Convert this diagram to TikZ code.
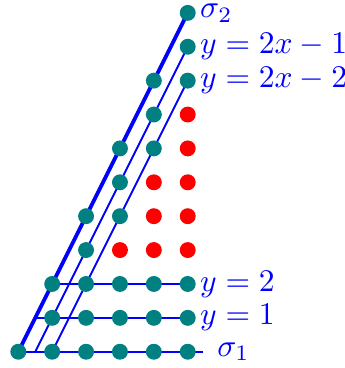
\documentclass[tikz,border=0pt]{standalone}
\usepackage{xcolor}
\usepackage{tikz}
\usetikzlibrary{positioning,backgrounds}

\begin{document}
\begin{tikzpicture}[x=1cm, y=1cm, dot/.style={circle, fill=teal, inner sep=0pt, minimum size=0.47cm}, reddot/.style={circle, fill=red, inner sep=0pt, minimum size=0.47cm}, ray/.style={blue, line width=1.6pt}, cone/.style={blue, line width=3.2pt}, lbl/.style={text=blue, inner sep=0.3pt, scale=2.65}]
\useasboundingbox (-0.54,-0.48) rectangle (9.64,10.38);
% lattice points, row by row
\foreach \x in {0,...,5} \node[dot] (d\x0) at (\x,0) {};
\foreach \x in {1,...,5} \node[dot] (d\x1) at (\x,1) {};
\foreach \x in {1,...,5} \node[dot] (d\x2) at (\x,2) {};
\node[dot] (d23) at (2,3) {};
\foreach \x in {3,4,5} \node[reddot] (d\x3) at (\x,3) {};
\foreach \x in {2,3} \node[dot] (d\x4) at (\x,4) {};
\foreach \x in {4,5} \node[reddot] (d\x4) at (\x,4) {};
\node[dot] (d35) at (3,5) {};
\foreach \x in {4,5} \node[reddot] (d\x5) at (\x,5) {};
\foreach \x in {3,4} \node[dot] (d\x6) at (\x,6) {};
\node[reddot] (d56) at (5,6) {};
\node[dot] (d47) at (4,7) {};
\node[reddot] (d57) at (5,7) {};
\foreach \x in {4,5} \node[dot] (d\x8) at (\x,8) {};
\node[dot] (d59) at (5,9) {};
\node[dot] (d510) at (5,10) {};
% free ends
\coordinate (b1) at (0.5,0);
\coordinate (h1) at (0.5,1);
\coordinate (e1) at (5.45,0);
% labels
\node[lbl, right=0.08cm of d510] (s2) {$\sigma_2$};
\node[lbl, right=0.08cm of d59] (l1) {$y=2x-1$};
\node[lbl, right=0.08cm of d58] (l2) {$y=2x-2$};
\node[lbl, right=0.08cm of d52] (h2) {$y=2$};
\node[lbl, right=0.08cm of d51] (hh1) {$y=1$};
\node[lbl, right=0.38cm of e1] (s1) {$\sigma_1$};
\begin{scope}[on background layer]
\draw[cone] (d00.center) -- (d510.center);
\draw[ray] (b1) -- (d59.center);
\draw[ray] (d10.center) -- (d58.center);
\draw[ray] (h1) -- (d51.center);
\draw[ray] (d12.center) -- (d52.center);
\draw[ray] (d00.center) -- (e1);
\end{scope}
\end{tikzpicture}
\end{document}
